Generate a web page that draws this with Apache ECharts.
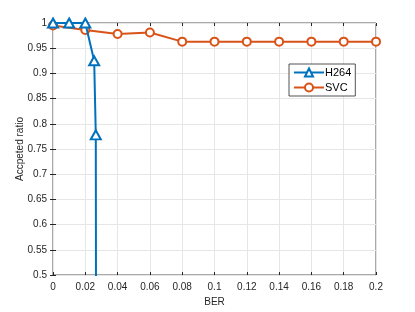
<!DOCTYPE html>
<html><head><meta charset="utf-8">
<script src="https://cdn.jsdelivr.net/npm/echarts@6/dist/echarts.min.js"></script>
<style>html,body{margin:0;padding:0;background:#fff}#c{width:415px;height:312px}</style>
</head><body><div id="c"></div>
<script>
var h264X = [0, 0.01, 0.02, 0.0255, 0.0265, 0.0268];
var h264Y = [1, 1, 1, 0.925, 0.778, 0];
var svcX = [0, 0.02, 0.04, 0.06, 0.08, 0.1, 0.12, 0.14, 0.16, 0.18, 0.2];
var svcY = [0.995, 0.986, 0.978, 0.981, 0.963, 0.963, 0.963, 0.963, 0.963, 0.963, 0.963];
var xTicks = [0, 0.02, 0.04, 0.06, 0.08, 0.1, 0.12, 0.14, 0.16, 0.18, 0.2];
var yTicks = [0.5, 0.55, 0.6, 0.65, 0.7, 0.75, 0.8, 0.85, 0.9, 0.95, 1];

var h264Markers = [0, 1, 2, 3, 4];
function pairs(xs, ys){ return xs.map(function(x,i){return [x, ys[i]];}); }
var h264Data = pairs(h264X, h264Y).map(function(p,i){
  return h264Markers.indexOf(i) >= 0 ? p : {value: p, symbol: 'none'};
});

var font = 'Liberation Sans, Arial, sans-serif';
var axisCol = '#262626';
var chart = echarts.init(document.getElementById('c'), null, {renderer: 'canvas'});
chart.setOption({
  animation: false,
  grid: {left: 53, top: 23, width: 323, height: 254, show: true, borderColor: '#262626', borderWidth: 0.8, backgroundColor: '#fff'},
  legend: {
    left: 289, top: 64, orient: 'vertical', itemGap: 4, itemWidth: 30, itemHeight: 10,
    backgroundColor: '#fff', borderColor: '#262626', borderWidth: 0.8, padding: [3, 4, 3, 4],
    textStyle: {fontFamily: font, fontSize: 11, color: '#000', padding: [0,0,0,-4]},
    data: ['H264', 'SVC']
  },
  xAxis: [{
    type: 'value', min: 0, max: 0.2, interval: 0.02,
    name: 'BER', nameLocation: 'middle', nameGap: 22, nameMoveOverlap: false,
    nameTextStyle: {fontFamily: font, fontSize: 10, color: axisCol},
    axisLine: {show: false},
    axisTick: {inside: true, length: 3, lineStyle: {color: axisCol}},
    axisLabel: {fontFamily: font, fontSize: 10, color: axisCol, margin: 7,
      formatter: function(v){ var r = Math.round(v*100)/100; return String(r); }},
    splitLine: {show: true, lineStyle: {color: '#e6e6e6', width: 1}}
  }, {
    type: 'value', min: 0, max: 0.2, interval: 0.02, position: 'top',
    axisLine: {show: false}, axisLabel: {show: false},
    axisTick: {inside: true, length: 3, lineStyle: {color: axisCol}},
    splitLine: {show: false}
  }],
  yAxis: [{
    type: 'value', min: 0.5, max: 1, interval: 0.05,
    name: 'Accpeted ratio', nameLocation: 'middle', nameGap: 28, nameMoveOverlap: false,
    nameTextStyle: {fontFamily: font, fontSize: 10, color: axisCol},
    axisLine: {show: false},
    axisTick: {inside: true, length: 3, lineStyle: {color: axisCol}},
    axisLabel: {fontFamily: font, fontSize: 10, color: axisCol, margin: 6,
      formatter: function(v){ var r = Math.round(v*100)/100; return String(r); }},
    splitLine: {show: true, lineStyle: {color: '#e6e6e6', width: 1}}
  }, {
    type: 'value', min: 0.5, max: 1, interval: 0.05, position: 'right',
    axisLine: {show: false}, axisLabel: {show: false},
    axisTick: {inside: true, length: 3, lineStyle: {color: axisCol}},
    splitLine: {show: false}
  }],
  series: [{
    name: 'H264', type: 'line', data: h264Data,
    symbol: 'emptyTriangle', symbolSize: [10, 9], showAllSymbol: true,
    lineStyle: {color: '#0072BD', width: 2},
    itemStyle: {color: '#0072BD', borderWidth: 1.5},
    z: 3, clip: true
  }, {
    name: 'SVC', type: 'line', data: pairs(svcX, svcY),
    symbol: 'emptyCircle', symbolSize: 8, showAllSymbol: true,
    lineStyle: {color: '#D95319', width: 2},
    itemStyle: {color: '#D95319', borderWidth: 1.5},
    z: 2, clip: false
  }]
});
</script></body></html>
